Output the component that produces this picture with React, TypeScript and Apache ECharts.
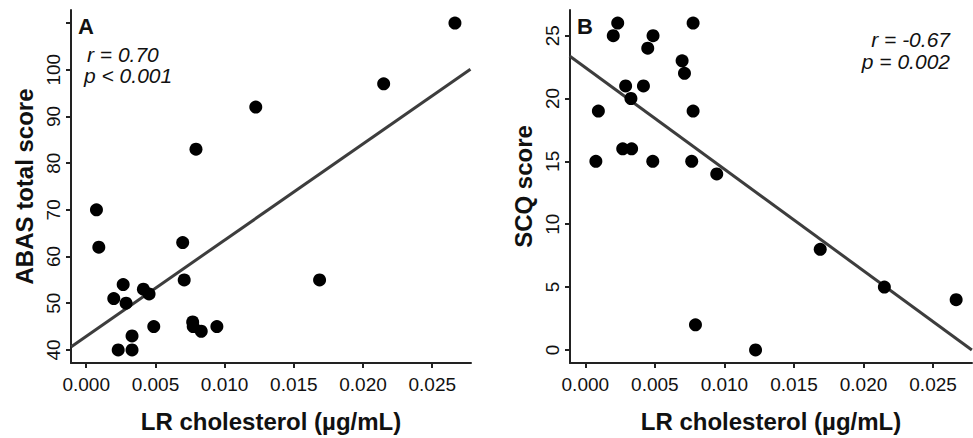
import React, { useEffect, useRef } from "react";
import * as echarts from "echarts";

// Panel A: LR cholesterol vs ABAS total score
const abasX = [
  0.02664, 0.02149, 0.01225, 0.00793, 0.00074, 0.00091, 0.00697, 0.00708, 0.01686, 0.00267, 0.00199,
  0.00288, 0.00413, 0.00454, 0.00488, 0.00769, 0.00773, 0.00831, 0.00944, 0.00331, 0.00231, 0.00331,
];
const abasY = [110, 97, 92, 83, 70, 62, 63, 55, 55, 54, 51, 50, 53, 52, 45, 46, 45, 44, 45, 43, 40, 40];

// Panel B: LR cholesterol vs SCQ score
const scqX = [
  0.00233, 0.00201, 0.00775, 0.00487, 0.00449, 0.00696, 0.00713, 0.0029, 0.00418, 0.00328, 0.00094,
  0.00775, 0.00269, 0.00333, 0.00076, 0.00485, 0.00765, 0.00945, 0.01689, 0.0215, 0.02666, 0.00792,
  0.01224,
];
const scqY = [26, 25, 26, 25, 24, 23, 22, 21, 21, 20, 19, 19, 16, 16, 15, 15, 15, 14, 8, 5, 4, 2, 0];

// Regression lines (endpoints at the axis limits)
const fitAX = [-0.00108, 0.02776];
const fitAY = [40.7, 100.1];
const fitBX = [-0.00113, 0.02779];
const fitBY = [23.38, 0.0];

// Axis limits and tick values
const xMin = -0.0011;
const xMax = 0.0278;
const xTicks = [0, 0.005, 0.01, 0.015, 0.02, 0.025];
const abasMin = 37.2;
const abasMax = 112.8;
const abasTicks = [40, 50, 60, 70, 80, 90, 100, 110];
const abasLabels = [40, 50, 60, 70, 80, 90, 100];
const scqMin = -1.04;
const scqMax = 27.04;
const scqTicks = [0, 5, 10, 15, 20, 25];

const FONT = "'Liberation Sans', Arial, sans-serif";
const INK = "#111";

const zip = (xs: number[], ys: number[]) => xs.map((x, i) => [x, ys[i]]);

function xAxisCfg(gridIndex: number) {
  return {
    type: "value",
    gridIndex,
    min: xMin,
    max: xMax,
    name: "LR cholesterol (µg/mL)",
    nameLocation: "middle",
    nameGap: 46,
    nameTextStyle: { fontFamily: FONT, fontSize: 24, fontWeight: "bold", color: INK },
    axisLine: { show: true, onZero: false, lineStyle: { color: "#222", width: 2 } },
    axisTick: { show: true, customValues: xTicks, length: 5, lineStyle: { color: "#222", width: 2 } },
    axisLabel: {
      customValues: xTicks,
      formatter: (v: number) => v.toFixed(3),
      fontFamily: FONT,
      fontSize: 19,
      color: INK,
      margin: 12,
    },
    splitLine: { show: false },
  };
}

function yAxisCfg(
  gridIndex: number,
  name: string,
  min: number,
  max: number,
  ticks: number[],
  labels: number[]
) {
  return {
    type: "value",
    gridIndex,
    min,
    max,
    name,
    nameLocation: "middle",
    nameGap: 35,
    nameTextStyle: { fontFamily: FONT, fontSize: 24, fontWeight: "bold", color: INK },
    axisLine: { show: true, onZero: false, lineStyle: { color: "#222", width: 2 } },
    axisTick: { show: true, customValues: ticks, length: 5, lineStyle: { color: "#222", width: 2 } },
    axisLabel: {
      customValues: labels,
      rotate: 90,
      fontFamily: FONT,
      fontSize: 19,
      color: INK,
      margin: 8,
    },
    splitLine: { show: false },
  };
}

export default function App() {
  const ref = useRef<HTMLDivElement>(null);

  useEffect(() => {
    if (!ref.current) return;
    const chart = echarts.init(ref.current, null, { renderer: "svg" });
    const textStyle = (text: string, extra: any) => ({
      text,
      fontFamily: FONT,
      fill: INK,
      verticalAlign: "middle",
      ...extra,
    });
    chart.setOption({
      animation: false,
      backgroundColor: "#ffffff",
      grid: [
        { left: 71, top: 10, width: 400, height: 353 },
        { left: 570, top: 10, width: 402, height: 353 },
      ],
      xAxis: [xAxisCfg(0), xAxisCfg(1)],
      yAxis: [
        yAxisCfg(0, "ABAS total score", abasMin, abasMax, abasTicks, abasLabels),
        yAxisCfg(1, "SCQ score", scqMin, scqMax, scqTicks, scqTicks),
      ],
      series: [
        {
          type: "line",
          xAxisIndex: 0,
          yAxisIndex: 0,
          data: zip(fitAX, fitAY),
          symbol: "none",
          lineStyle: { color: "#3d3d3d", width: 3 },
          z: 1,
        },
        {
          type: "scatter",
          xAxisIndex: 0,
          yAxisIndex: 0,
          data: zip(abasX, abasY),
          symbolSize: 13,
          itemStyle: { color: "#000", opacity: 1 },
          z: 2,
        },
        {
          type: "line",
          xAxisIndex: 1,
          yAxisIndex: 1,
          data: zip(fitBX, fitBY),
          symbol: "none",
          lineStyle: { color: "#3d3d3d", width: 3 },
          z: 1,
        },
        {
          type: "scatter",
          xAxisIndex: 1,
          yAxisIndex: 1,
          data: zip(scqX, scqY),
          symbolSize: 13,
          itemStyle: { color: "#000", opacity: 1 },
          z: 2,
        },
      ],
      graphic: [
        { type: "text", x: 78, y: 26, style: textStyle("A", { fontSize: 22, fontWeight: "bold" }) },
        { type: "text", x: 577, y: 26, style: textStyle("B", { fontSize: 22, fontWeight: "bold" }) },
        { type: "text", x: 87, y: 54, style: textStyle("r = 0.70", { fontSize: 21, fontStyle: "italic" }) },
        { type: "text", x: 84, y: 75, style: textStyle("p < 0.001", { fontSize: 21, fontStyle: "italic" }) },
        {
          type: "text",
          x: 950,
          y: 39,
          style: textStyle("r = -0.67", { fontSize: 21, fontStyle: "italic", align: "right" }),
        },
        {
          type: "text",
          x: 950,
          y: 61,
          style: textStyle("p = 0.002", { fontSize: 21, fontStyle: "italic", align: "right" }),
        },
      ],
    });
    return () => chart.dispose();
  }, []);

  return (
    <div
      ref={ref}
      style={{ position: "absolute", left: 0, top: 0, width: 973, height: 438, background: "#fff" }}
    />
  );
}
